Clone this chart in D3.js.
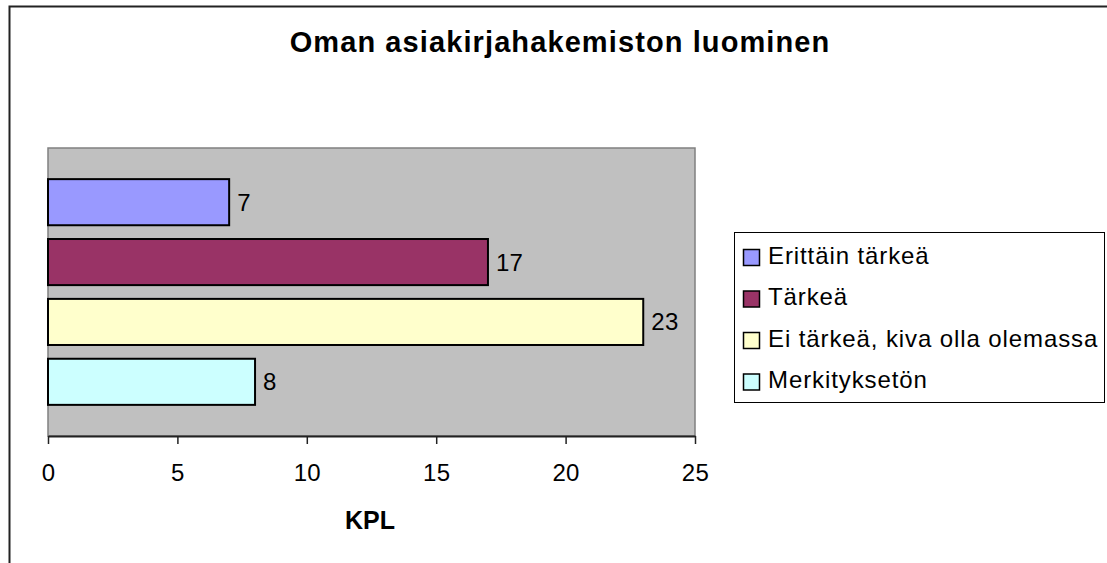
<!DOCTYPE html>
<html>
<head>
<meta charset="utf-8">
<script src="https://cdn.jsdelivr.net/npm/d3@7"></script>
<style>
  html, body { margin: 0; padding: 0; background: #fff; }
  svg { display: block; font-family: "Liberation Sans", Arial, sans-serif; }
</style>
</head>
<body>
<svg id="chart" width="1107" height="563"></svg>
<script>
const title = "Oman asiakirjahakemiston luominen";
const axisTitle = "KPL";
const seriesNames = ["Erittäin tärkeä", "Tärkeä", "Ei tärkeä, kiva olla olemassa", "Merkityksetön"];
const seriesValues = [7, 17, 23, 8];
const seriesColors = ["#9999FF", "#993366", "#FFFFCC", "#CCFFFF"];
const xTicks = [0, 5, 10, 15, 20, 25];

const svg = d3.select("#chart");

// outer frame
svg.append("rect").attr("x", 9.5).attr("y", 6.5).attr("width", 1300).attr("height", 700)
  .attr("fill", "#fff").attr("stroke", "#222").attr("stroke-width", 2);

// title
svg.append("text").attr("x", 560).attr("y", 52).attr("text-anchor", "middle")
  .attr("font-size", 29).attr("font-weight", "bold").attr("letter-spacing", 1.1)
  .text(title);

const plot = { left: 48, right: 695, top: 148, bottom: 436 };
const x = d3.scaleLinear().domain([0, 25]).range([plot.left, plot.right]);
const y = d3.scaleBand().domain(seriesNames).range([plot.top, plot.bottom])
  .paddingInner(0.23).paddingOuter(0.52);

// plot area
svg.append("rect").attr("x", plot.left).attr("y", plot.top)
  .attr("width", plot.right - plot.left).attr("height", plot.bottom - plot.top)
  .attr("fill", "#C0C0C0").attr("stroke", "#808080").attr("stroke-width", 1.5);

// bars
svg.append("g").selectAll("rect").data(seriesNames).join("rect")
  .attr("x", x(0))
  .attr("y", d => y(d))
  .attr("width", (d, i) => x(seriesValues[i]) - x(0))
  .attr("height", y.bandwidth())
  .attr("fill", (d, i) => seriesColors[i])
  .attr("stroke", "#000").attr("stroke-width", 2);

// data labels
svg.append("g").selectAll("text").data(seriesNames).join("text")
  .attr("x", (d, i) => x(seriesValues[i]) + 8)
  .attr("y", d => y(d) + y.bandwidth() / 2 + 8.5)
  .attr("font-size", 24).attr("letter-spacing", 0.3)
  .text((d, i) => seriesValues[i]);

// x axis
const xAxis = d3.axisBottom(x).tickValues(xTicks).tickSize(8).tickSizeOuter(0).tickPadding(20);
const gx = svg.append("g").attr("transform", `translate(0,${plot.bottom})`).call(xAxis);
gx.select(".domain").attr("stroke", "#222").attr("stroke-width", 2);
gx.selectAll(".tick line").attr("stroke", "#222").attr("stroke-width", 1.5);
gx.selectAll(".tick text").attr("font-size", 24).attr("font-family", "Liberation Sans, Arial, sans-serif")
  .attr("fill", "#000").attr("letter-spacing", 0.3);

// axis title
svg.append("text").attr("x", 370).attr("y", 529).attr("text-anchor", "middle")
  .attr("font-size", 25).attr("font-weight", "bold")
  .text(axisTitle);

// legend
const lg = svg.append("g");
lg.append("rect").attr("x", 734.5).attr("y", 232.5).attr("width", 370).attr("height", 170)
  .attr("fill", "#fff").attr("stroke", "#000").attr("stroke-width", 1);
const items = lg.selectAll("g.item").data(seriesNames).join("g").attr("class", "item")
  .attr("transform", (d, i) => `translate(0,${263.5 + i * 41.5})`);
items.append("rect").attr("x", 743.5).attr("y", -14).attr("width", 16).attr("height", 16)
  .attr("fill", (d, i) => seriesColors[i]).attr("stroke", "#000").attr("stroke-width", 1.5);
items.append("text").attr("x", 768).attr("y", 0)
  .attr("font-size", 24).attr("letter-spacing", 0.9)
  .text(d => d);
</script>
</body>
</html>
